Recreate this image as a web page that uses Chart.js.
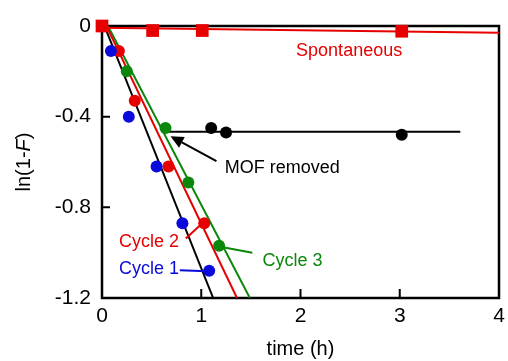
<!DOCTYPE html>
<html>
<head>
<meta charset="utf-8">
<script src="https://cdn.jsdelivr.net/npm/chart.js@4"></script>
<style>
  html, body { margin: 0; padding: 0; background: #fff; }
  #grafico { display: block; }
</style>
</head>
<body>
<canvas id="grafico" width="508" height="361"></canvas>
<script>
// datos: tiempo (h) y ln(1-F)
const cycle1Time = [0.09, 0.27, 0.55, 0.81, 1.08];
const cycle1Val  = [-0.11, -0.40, -0.62, -0.87, -1.08];
const cycle2Time = [0.17, 0.33, 0.67, 1.03];
const cycle2Val  = [-0.11, -0.33, -0.62, -0.87];
const cycle3Time = [0.25, 0.64, 0.87, 1.18];
const cycle3Val  = [-0.20, -0.45, -0.69, -0.97];
const removedTime = [1.10, 1.25, 3.02];
const removedVal  = [-0.45, -0.47, -0.48];
const spontTime = [0, 0.51, 1.01, 3.02];
const spontVal  = [0, -0.02, -0.02, -0.023];

// rectas de ajuste (extremos)
const fit1Time = [0.025, 1.12];
const fit1Val  = [0, -1.2];
const fit2Time = [0.045, 1.36];
const fit2Val  = [0, -1.2];
const fit3Time = [0.06, 1.49];
const fit3Val  = [0, -1.2];
const removedLineTime = [0.64, 3.61];
const removedLineVal  = [-0.466, -0.466];
const spontLineTime = [0, 4];
const spontLineVal  = [-0.008, -0.03];

// ejes
const xTicks = [0, 1, 2, 3, 4];
const yTicks = [-1.2, -0.8, -0.4, 0];

const ROJO = '#e60000';
const AZUL = '#0a0adc';
const VERDE = '#0b870b';
const NEGRO = '#000000';
const FUENTE = '"Liberation Sans", Arial, sans-serif';

const pares = (xs, ys) => xs.map((x, i) => ({ x: x, y: ys[i] }));

const puntos = (data, color, estilo, radio) => ({
    data: data,
    showLine: false,
    pointStyle: estilo,
    pointRadius: radio,
    pointBackgroundColor: color,
    pointBorderColor: color,
    pointBorderWidth: 0,
    clip: false
});

const recta = (data, color) => ({
    data: data,
    showLine: true,
    borderColor: color,
    borderWidth: 2,
    pointRadius: 0,
    fill: false
});

// marco, marcas hacia dentro y anotaciones
const marcoPlugin = {
    id: 'marco',
    beforeDatasetsDraw(chart) {
        const { ctx, chartArea: a, scales } = chart;
        ctx.save();
        ctx.strokeStyle = NEGRO;
        ctx.lineWidth = 2.5;
        ctx.strokeRect(a.left, a.top, a.right - a.left, a.bottom - a.top);
        ctx.lineWidth = 2;
        ctx.beginPath();
        yTicks.forEach(v => {
            const py = scales.y.getPixelForValue(v);
            ctx.moveTo(a.left, py);
            ctx.lineTo(a.left + 8, py);
        });
        xTicks.forEach(v => {
            const px = scales.x.getPixelForValue(v);
            ctx.moveTo(px, a.bottom);
            ctx.lineTo(px, a.bottom - 9);
        });
        ctx.stroke();
        ctx.restore();
    },
    afterDatasetsDraw(chart) {
        const { ctx, scales } = chart;
        const X = v => scales.x.getPixelForValue(v);
        const Y = v => scales.y.getPixelForValue(v);
        ctx.save();
        ctx.font = '18px ' + FUENTE;
        ctx.textBaseline = 'middle';

        const texto = (t, x, y, color, align) => {
            ctx.fillStyle = color;
            ctx.textAlign = align;
            ctx.fillText(t, X(x), Y(y));
        };
        const linea = (x1, y1, x2, y2, color) => {
            ctx.strokeStyle = color;
            ctx.lineWidth = 2;
            ctx.beginPath();
            ctx.moveTo(X(x1), Y(y1));
            ctx.lineTo(X(x2), Y(y2));
            ctx.stroke();
        };

        texto('Spontaneous', 2.49, -0.112, ROJO, 'center');
        texto('MOF removed', 1.236, -0.625, NEGRO, 'left');
        texto('Cycle 2', 0.171, -0.955, ROJO, 'left');
        texto('Cycle 1', 0.171, -1.074, AZUL, 'left');
        texto('Cycle 3', 1.618, -1.037, VERDE, 'left');

        linea(0.844, -0.937, 1.0, -0.875, ROJO);
        linea(0.784, -1.078, 1.06, -1.082, AZUL);
        linea(1.19, -0.974, 1.515, -1.0, VERDE);

        // flecha "MOF removed"
        const x1 = X(1.153), y1 = Y(-0.596);
        const x2 = X(0.69), y2 = Y(-0.486);
        const ang = Math.atan2(y2 - y1, x2 - x1);
        const largo = 13, ancho = 6;
        const bx = x2 - largo * Math.cos(ang), by = y2 - largo * Math.sin(ang);
        ctx.strokeStyle = NEGRO;
        ctx.lineWidth = 2;
        ctx.beginPath();
        ctx.moveTo(x1, y1);
        ctx.lineTo(bx, by);
        ctx.stroke();
        ctx.fillStyle = NEGRO;
        ctx.beginPath();
        ctx.moveTo(x2, y2);
        ctx.lineTo(bx + ancho * Math.sin(ang), by - ancho * Math.cos(ang));
        ctx.lineTo(bx - ancho * Math.sin(ang), by + ancho * Math.cos(ang));
        ctx.closePath();
        ctx.fill();
        ctx.restore();
    },
    afterDraw(chart) {
        // titulo del eje y con la F en cursiva
        const { ctx, chartArea: a } = chart;
        const cy = (a.top + a.bottom) / 2;
        const partes = [['ln(1-', '20px '], ['F', 'italic 20px '], [')', '20px ']];
        ctx.save();
        let total = 0;
        partes.forEach(p => { ctx.font = p[1] + FUENTE; total += ctx.measureText(p[0]).width; });
        ctx.translate(24, cy);
        ctx.rotate(-Math.PI / 2);
        ctx.fillStyle = NEGRO;
        ctx.textBaseline = 'middle';
        ctx.textAlign = 'left';
        let pos = -total / 2;
        partes.forEach(p => {
            ctx.font = p[1] + FUENTE;
            ctx.fillText(p[0], pos, 0);
            pos += ctx.measureText(p[0]).width;
        });
        ctx.restore();
    }
};

new Chart(document.getElementById('grafico'), {
    type: 'scatter',
    data: {
        datasets: [
            puntos(pares(spontTime, spontVal), ROJO, 'rect', 9),
            puntos(pares(cycle1Time, cycle1Val), AZUL, 'circle', 6),
            puntos(pares(cycle2Time, cycle2Val), ROJO, 'circle', 6),
            puntos(pares(cycle3Time, cycle3Val), VERDE, 'circle', 6),
            puntos(pares(removedTime, removedVal), NEGRO, 'circle', 6),
            recta(pares(spontLineTime, spontLineVal), ROJO),
            recta(pares(fit1Time, fit1Val), NEGRO),
            recta(pares(fit2Time, fit2Val), ROJO),
            recta(pares(fit3Time, fit3Val), VERDE),
            recta(pares(removedLineTime, removedLineVal), NEGRO)
        ]
    },
    options: {
        responsive: false,
        animation: false,
        layout: { padding: { top: 26, right: 8, left: 0, bottom: 0 } },
        plugins: { legend: { display: false }, tooltip: { enabled: false } },
        scales: {
            x: {
                type: 'linear',
                min: 0, max: 4,
                afterFit: s => { s.height = 63; s.paddingLeft = 0; s.paddingRight = 0; },
                afterBuildTicks: s => { s.ticks = xTicks.map(v => ({ value: v })); },
                grid: { display: false, drawTicks: false },
                border: { display: false },
                ticks: { color: NEGRO, padding: 6, font: { family: FUENTE, size: 21 } },
                title: {
                    display: true, text: 'time (h)', color: NEGRO,
                    font: { family: FUENTE, size: 20 },
                    padding: { top: 0, bottom: 0 }
                }
            },
            y: {
                type: 'linear',
                min: -1.2, max: 0,
                afterFit: s => { s.width = 102; s.paddingTop = 0; s.paddingBottom = 0; },
                afterBuildTicks: s => { s.ticks = yTicks.map(v => ({ value: v })); },
                grid: { display: false, drawTicks: false },
                border: { display: false },
                ticks: {
                    color: NEGRO, padding: 11,
                    font: { family: FUENTE, size: 21 },
                    callback: v => (Math.abs(v) < 1e-9 ? '0' : v.toFixed(1))
                }
            }
        }
    },
    plugins: [marcoPlugin]
});
</script>
</body>
</html>
